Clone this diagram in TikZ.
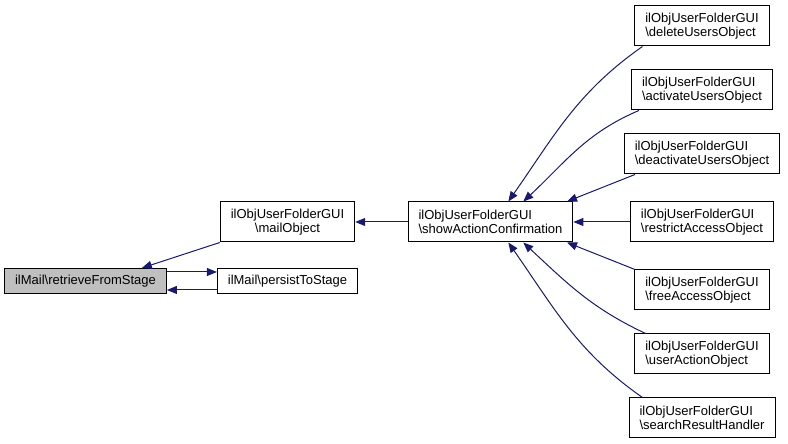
\documentclass[tikz,border=0pt]{standalone}
\usepackage{fontspec}
\setmainfont{Liberation Sans}
\usetikzlibrary{arrows.meta, positioning}
\definecolor{edgeblue}{HTML}{191970}

\begin{document}
\begin{tikzpicture}[x=1pt, y=1pt,
		fn/.style={rectangle, draw=black, fill=white, line width=1pt, inner xsep=10.5pt, inner ysep=2pt, minimum height=40pt, align=left, font=\fontsize{13}{14.5}\selectfont},
		single/.style={fn, minimum height=25pt},
		current/.style={single, fill=gray!50},
		call/.style={-{Triangle[length=10pt, width=8pt]}, draw=edgeblue, line width=1pt}]
		\useasboundingbox (0,0) rectangle (788,444);
		
		\node (retrieve) [current] at (85.5,163) {ilMail\textbackslash retrieveFromStage};
		\node (mail) [fn, align=center] at (287.5,222) {ilObjUserFolderGUI\\\textbackslash mailObject};
		\node (persist) [single] at (287.5,163) {ilMail\textbackslash persistToStage};
		\node (show) [fn] at (490.5,222) {ilObjUserFolderGUI\\\textbackslash showActionConfirmation};
		
		\node (delete) [fn] at (702,418) {ilObjUserFolderGUI\\\textbackslash deleteUsersObject};
		\node (activate) [fn] at (702,354) {ilObjUserFolderGUI\\\textbackslash activateUsersObject};
		\node (deactivate) [fn] at (702,290) {ilObjUserFolderGUI\\\textbackslash deactivateUsersObject};
		\node (restrict) [fn] at (702,222) {ilObjUserFolderGUI\\\textbackslash restrictAccessObject};
		\node (free) [fn] at (702,154) {ilObjUserFolderGUI\\\textbackslash freeAccessObject};
		\node (user) [fn] at (702,90) {ilObjUserFolderGUI\\\textbackslash userActionObject};
		\node (search) [fn] at (702,26) {ilObjUserFolderGUI\\\textbackslash searchResultHandler};
		
		\draw[call] (mail.south west) -- (retrieve.13);
		\draw[call] ([yshift=9pt]retrieve.east) -- ([yshift=9pt]persist.west);
		\draw[call] ([yshift=-9pt]persist.west) -- ([yshift=-9pt]retrieve.east);
		\draw[call] (show) -- (mail);
		
		\draw[call] (delete.199) to[out=215, in=55] (show.49);
		\draw[call] (activate.198) to[out=203, in=43] (show.32);
		\draw[call] (deactivate.197) -- (show.15);
		\draw[call] (restrict) -- (show);
		\draw[call] (free.163) -- (show.-15);
		\draw[call] (user.160) to[out=155, in=-43] (show.-32);
		\draw[call] (search.161) to[out=145, in=-55] (show.-49);
	\end{tikzpicture}
\end{document}
